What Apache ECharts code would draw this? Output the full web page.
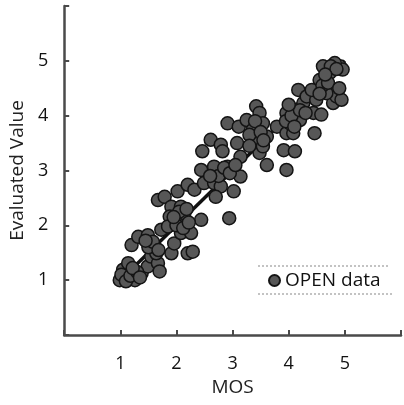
<!DOCTYPE html>
<html>
<head>
<meta charset="utf-8">
<script src="https://cdn.jsdelivr.net/npm/echarts@6/dist/echarts.min.js"></script>
<style>
  html, body { margin: 0; padding: 0; background: #fff; }
  #chart { width: 404px; height: 405px; }
</style>
</head>
<body>
<div id="chart"></div>
<script>
// values
var mosValues = [
  0.99, 1.08, 1.05, 1.14, 1.2, 1.32, 1.49, 1.38, 1.26, 1.49, 1.55, 1.61, 1.67, 1.7, 1.64, 1.73,
  1.67, 1.79, 1.91, 1.88, 1.91, 1.96, 1.85, 2.02, 2.08, 2.14, 2.2, 2.29, 2.26, 2.08, 2.02, 2.2,
  2.32, 2.44, 2.44, 2.46, 2.61, 2.79, 2.82, 2.49, 2.67, 2.67, 2.79, 2.7, 2.91, 3.02, 2.94, 2.91,
  3.02, 3.08, 3.14, 3.14, 3.11, 3.25, 3.42, 3.48, 3.54, 3.36, 3.42, 3.48, 3.54, 3.61, 3.61, 3.79,
  3.91, 3.96, 4.11, 3.96, 3.96, 4.02, 4.08, 4.14, 4.17, 4.2, 4.26, 4.32, 4.44, 4.46, 4.49, 4.58,
  4.55, 4.61, 4.73, 4.79, 4.79, 4.85, 4.91, 4.94, 4.96, 4.67, 4.82, 4.41,
  1.02, 1.1, 1.18, 1.3, 1.22, 1.35, 1.5, 1.58, 1.45, 1.68, 2.0, 2.05, 2.12, 2.18, 1.95, 2.22,
  2.75, 2.85, 2.95, 3.05, 2.6, 3.3, 3.4, 3.5, 3.3, 3.55, 3.95, 4.05, 4.1, 4.2, 4.3, 4.0,
  4.6, 4.7, 4.75, 4.85, 4.65, 4.9, 4.55
];
var evalValues = [
  1.0, 1.06, 1.19, 1.31, 1.64, 1.79, 1.82, 1.13, 1.0, 1.25, 1.43, 1.61, 1.31, 1.16, 1.49, 1.92,
  2.46, 2.52, 2.34, 2.16, 1.49, 1.67, 1.98, 2.1, 1.86, 2.22, 1.49, 1.52, 1.86, 2.34, 2.62, 2.74,
  2.65, 2.1, 3.01, 3.35, 3.56, 3.47, 3.35, 2.77, 3.07, 2.77, 2.71, 2.52, 3.86, 2.62, 2.13, 3.07,
  3.01, 3.5, 3.25, 2.89, 3.8, 3.92, 4.17, 4.05, 3.86, 3.74, 3.5, 3.32, 3.44, 3.62, 3.1, 3.8,
  3.37, 3.01, 3.35, 3.68, 4.05, 3.86, 3.68, 4.11, 4.47, 3.92, 4.23, 4.35, 4.05, 3.68, 4.29, 4.02,
  4.65, 4.9, 4.78, 4.47, 4.23, 4.35, 4.9, 4.29, 4.84, 4.41, 4.96, 4.47,
  1.1, 0.98, 1.08, 1.15, 1.22, 1.05, 1.6, 1.7, 1.72, 1.55, 2.0, 2.25, 1.95, 2.3, 2.15, 2.05,
  2.9, 3.05, 2.95, 3.1, 2.9, 3.65, 3.9, 3.7, 3.45, 3.55, 3.9, 4.0, 3.8, 4.1, 4.05, 4.2,
  4.55, 4.6, 4.9, 4.85, 4.75, 4.5, 4.4
];
var fitLine = [[1, 1], [5, 5]];
var tickLabels = ["", "1", "2", "3", "4", "5", ""];

var points = mosValues.map(function (m, i) { return [m, evalValues[i]]; });

var chart = echarts.init(document.getElementById("chart"));

var fontName = "Open Sans";
var axisColor = "#4a4a4a";

var option = {
  animation: false,
  grid: { left: 62, right: 2, top: 6, bottom: 70 },
  legend: {
    data: ["OPEN data"],
    left: 268,
    top: 271,
    padding: 0,
    itemWidth: 11,
    itemHeight: 11,
    itemGap: 4,
    textStyle: { fontFamily: fontName, fontSize: 19, color: "#111", padding: [0, 0, 0, 0] }
  },
  graphic: [
    { type: "line", shape: { x1: 258, y1: 266, x2: 390, y2: 266 }, style: { stroke: "#888", lineWidth: 1, lineDash: [2, 2] } },
    { type: "line", shape: { x1: 258, y1: 294, x2: 394, y2: 294 }, style: { stroke: "#888", lineWidth: 1, lineDash: [2, 2] } }
  ],
  xAxis: {
    type: "value",
    min: 0,
    max: 6,
    interval: 1,
    name: "MOS",
    nameLocation: "middle",
    nameGap: 42,
    nameTextStyle: { fontFamily: fontName, fontSize: 19, color: "#222" },
    axisLine: { lineStyle: { color: axisColor, width: 2.5 } },
    axisTick: { inside: true, length: 5, lineStyle: { color: axisColor, width: 2 } },
    axisLabel: {
      margin: 20,
      fontFamily: fontName,
      fontSize: 18,
      color: "#111",
      formatter: function (v) { return tickLabels[v]; }
    },
    splitLine: { show: false }
  },
  yAxis: {
    type: "value",
    min: 0,
    max: 6,
    interval: 1,
    name: "Evaluated Value",
    nameLocation: "middle",
    nameGap: 34,
    nameTextStyle: { fontFamily: fontName, fontSize: 19, color: "#222" },
    axisLine: { lineStyle: { color: axisColor, width: 2.5 } },
    axisTick: { inside: true, length: 5, lineStyle: { color: axisColor, width: 2 } },
    axisLabel: {
      margin: 16,
      fontFamily: fontName,
      fontSize: 18,
      color: "#111",
      formatter: function (v) { return tickLabels[v]; }
    },
    splitLine: { show: false }
  },
  series: [
    {
      name: "OPEN data",
      type: "scatter",
      data: points,
      symbol: "circle",
      symbolSize: 13,
      itemStyle: { color: "#575757", borderColor: "#141414", borderWidth: 1.5, opacity: 1 },
      z: 3
    },
    {
      name: "fit",
      type: "line",
      data: fitLine,
      symbol: "none",
      lineStyle: { color: "#111", width: 3.5 },
      z: 2
    }
  ]
};

chart.setOption(option);
</script>
</body>
</html>
